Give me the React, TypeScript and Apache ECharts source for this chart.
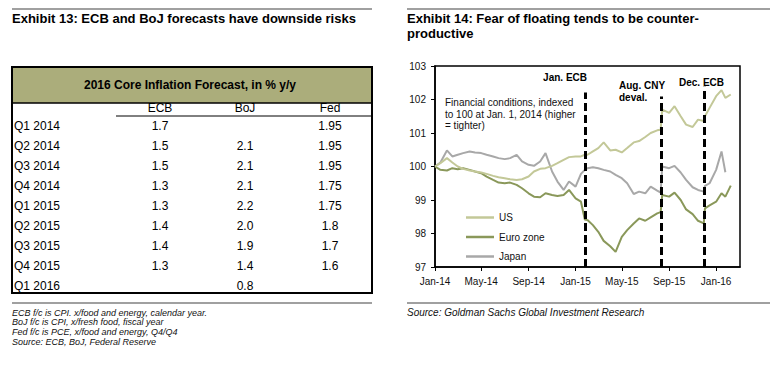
import React, { useEffect, useRef } from 'react';
import * as echarts from 'echarts';

const FONT = '"Liberation Sans", Arial, Helvetica, sans-serif';

// ---------- Exhibit 13 (table) ----------
const leftTitle = 'Exhibit 13: ECB and BoJ forecasts have downside risks';
const tableTitle = '2016 Core Inflation Forecast, in % y/y';
const tableColumns = ['ECB', 'BoJ', 'Fed'];
const tableRows = ['Q1 2014', 'Q2 2014', 'Q3 2014', 'Q4 2014', 'Q1 2015', 'Q2 2015', 'Q3 2015', 'Q4 2015', 'Q1 2016'];
const ecbForecast = ['1.7', '1.5', '1.5', '1.3', '1.3', '1.4', '1.4', '1.3', ''];
const bojForecast = ['', '2.1', '2.1', '2.1', '2.2', '2.0', '1.9', '1.4', '0.8'];
const fedForecast = ['1.95', '1.95', '1.95', '1.75', '1.75', '1.8', '1.7', '1.6', ''];
const leftFootnotes = [
  'ECB f/c is CPI. x/food and energy, calendar year.',
  'BoJ f/c is CPI, x/fresh food, fiscal year',
  'Fed f/c is PCE, x/food and energy, Q4/Q4',
  'Source: ECB, BoJ, Federal Reserve',
];

// ---------- Exhibit 14 (line chart) ----------
const rightTitle = ['Exhibit 14: Fear of floating tends to be counter-', 'productive'];
const rightSource = 'Source: Goldman Sachs Global Investment Research';
const noteLines = ['Financial conditions, indexed', 'to 100 at Jan. 1, 2014 (higher', '= tighter)'];
const seriesNames = ['US', 'Euro zone', 'Japan'];

const dates = [
  '2014-01-01', '2014-01-15', '2014-02-01', '2014-02-15', '2014-03-01', '2014-03-15',
  '2014-04-01', '2014-04-15', '2014-05-01', '2014-05-15', '2014-06-01', '2014-06-15',
  '2014-07-01', '2014-07-15', '2014-08-01', '2014-08-15', '2014-09-01', '2014-09-15',
  '2014-10-01', '2014-10-15', '2014-11-01', '2014-11-15', '2014-12-01', '2014-12-15',
  '2015-01-01', '2015-01-15', '2015-01-25', '2015-02-01', '2015-02-15', '2015-03-01',
  '2015-03-15', '2015-04-01', '2015-04-15', '2015-05-01', '2015-05-15', '2015-06-01',
  '2015-06-15', '2015-07-01', '2015-07-15', '2015-08-01', '2015-08-10', '2015-08-14',
  '2015-09-01', '2015-09-15', '2015-10-01', '2015-10-15', '2015-11-01', '2015-11-15',
  '2015-11-30', '2015-12-03', '2015-12-15', '2016-01-01', '2016-01-15', '2016-01-25',
  '2016-02-08',
];
const usValues = [
  100.0, 100.1, 100.25, 100.12, 100.0, 99.93,
  99.88, 99.85, 99.82, 99.78, 99.72, 99.68,
  99.65, 99.62, 99.6, 99.62, 99.7, 99.85,
  99.93, 99.95, 100.02, 100.1, 100.2, 100.28,
  100.3, 100.3, 100.35, 100.35, 100.45, 100.55,
  100.72, 100.48, 100.5, 100.42, 100.55, 100.72,
  100.76, 100.88, 101.0, 101.08, 101.1, 101.7,
  101.6, 101.8, 101.5, 101.25, 101.18, 101.4,
  101.36, 101.5, 101.75, 102.1, 102.28, 102.05,
  102.15,
];
const euroValues = [
  100.0, 99.9, 99.88, 99.95, 99.92, 99.95,
  99.9, 99.85, 99.8, 99.7, 99.6, 99.52,
  99.5, 99.52, 99.45, 99.35, 99.2, 99.1,
  99.08, 99.2, 99.15, 99.12, 99.15, 99.3,
  99.05, 98.95, 98.42, 98.4, 98.25, 98.05,
  97.78, 97.62, 97.45, 97.9, 98.1, 98.3,
  98.45, 98.38, 98.48, 98.6, 98.64, 99.15,
  99.1, 99.22, 99.0, 98.72, 98.58, 98.38,
  98.3, 98.75, 98.84, 98.95, 99.2, 99.1,
  99.43,
];
const japanValues = [
  100.0, 100.12, 100.48, 100.3, 100.35, 100.4,
  100.45, 100.42, 100.4, 100.35, 100.3, 100.25,
  100.22, 100.25, 100.35, 100.15, 100.05, 100.02,
  100.15, 100.4, 99.85, 99.55, 99.3, 99.55,
  99.4, 99.78, 99.9, 99.95, 99.98, 99.95,
  99.9, 99.85, 99.75, 99.65, 99.5, 99.18,
  99.25, 99.2, 99.4, 99.28, 99.22, 100.0,
  99.95, 100.02, 99.82, 99.6, 99.38, 99.3,
  99.25, 99.42, 99.5, 99.9, 100.45, 99.83,
  null,
];

const eventLabels = ['Jan. ECB', 'Aug. CNY', 'Dec. ECB'];
const eventDates = ['2015-01-25', '2015-08-12', '2015-12-01'];
const eventTops = [102.21, 102.09, 102.38];

const xTickDates = ['2014-01-01', '2014-05-01', '2014-09-01', '2015-01-01', '2015-05-01', '2015-09-01', '2016-01-01'];
const xMin = '2014-01-01';
const xMax = '2016-03-03';
const yMin = 97;
const yMax = 103;

const MONTHS = ['Jan', 'Feb', 'Mar', 'Apr', 'May', 'Jun', 'Jul', 'Aug', 'Sep', 'Oct', 'Nov', 'Dec'];

function toTime(s: string): number {
  const [y, m, d] = s.split('-').map(Number);
  return Date.UTC(y, m - 1, d);
}

function txt(text: string, x: number, y: number, font: string, align = 'left', fill = '#000') {
  return {
    type: 'text',
    x,
    y,
    silent: true,
    style: { text, font, fill, align, verticalAlign: 'middle' },
  };
}

function hline(x1: number, x2: number, y: number, stroke: string, lineWidth: number) {
  return { type: 'line', silent: true, shape: { x1, y1: y, x2, y2: y }, style: { stroke, lineWidth } };
}

export default function App() {
  const ref = useRef<HTMLDivElement>(null);

  useEffect(() => {
    if (!ref.current) return;
    const chart = echarts.init(ref.current, undefined, { renderer: 'svg' });

    const bold13 = `bold 13px ${FONT}`;
    const bold12 = `bold 12px ${FONT}`;
    const reg12 = `12px ${FONT}`;
    const ital9 = `italic 9px ${FONT}`;
    const ital10 = `italic 10px ${FONT}`;
    const bold10 = `bold 10px ${FONT}`;
    const reg10 = `10px ${FONT}`;

    const graphics: any[] = [];
    // left exhibit
    graphics.push(hline(12, 372, 9, '#808080', 1.5));
    graphics.push(txt(leftTitle, 12, 18.5, bold13));
    graphics.push({ type: 'rect', silent: true, shape: { x: 12, y: 67, width: 360, height: 36 }, style: { fill: '#abad7b' } });
    graphics.push(hline(12, 372, 103, '#000', 1.5));
    graphics.push({ type: 'rect', silent: true, shape: { x: 12, y: 67, width: 360, height: 226 }, style: { fill: 'none', stroke: '#000', lineWidth: 2 } });
    graphics.push(txt(tableTitle, 190, 85, bold12, 'center'));
    const colX = [160, 245, 330];
    tableColumns.forEach((c, i) => graphics.push(txt(c, colX[i], 107.8, reg12, 'center')));
    graphics.push(hline(116, 372, 116, '#000', 1));
    const cols = [ecbForecast, bojForecast, fedForecast];
    tableRows.forEach((r, i) => {
      const y = 125.7 + i * 20;
      graphics.push(txt(r, 14, y, reg12));
      cols.forEach((col, j) => {
        if (col[i]) graphics.push(txt(col[i], colX[j], y, reg12, 'center'));
      });
    });
    graphics.push(hline(12, 372, 303, '#a0a0a0', 2));
    leftFootnotes.forEach((f, i) => graphics.push(txt(f, 12, 312.7 + i * 9.7, ital9, 'left', '#111')));

    // right exhibit
    graphics.push(hline(407, 770, 9, '#808080', 1.5));
    graphics.push(txt(rightTitle[0], 407, 18.3, bold13));
    graphics.push(txt(rightTitle[1], 407, 33.3, bold13));
    graphics.push(hline(407, 770, 303, '#a0a0a0', 2));
    graphics.push(txt(rightSource, 407, 312.3, ital10, 'left', '#111'));
    noteLines.forEach((l, i) => graphics.push(txt(l, 445, 102.3 + i * 11.7, reg10, 'left', '#111')));
    graphics.push(txt(eventLabels[0], 587, 77, bold10, 'right'));
    graphics.push(txt(eventLabels[1], 619, 85, bold10, 'left'));
    graphics.push(txt('deval.', 619, 97, bold10, 'left'));
    graphics.push(txt(eventLabels[2], 679, 82, bold10, 'left'));

    const colors = ['#c3c898', '#8a985a', '#a8a8a8'];
    const valueSets = [usValues, euroValues, japanValues];
    const times = dates.map(toTime);

    const series: any[] = [2, 1, 0].map((k) => ({
      name: seriesNames[k],
      type: 'line',
      symbol: 'none',
      showSymbol: false,
      smooth: false,
      connectNulls: false,
      color: colors[k],
      lineStyle: { width: 2, color: colors[k] },
      itemStyle: { color: colors[k] },
      data: times.map((t, i) => [t, valueSets[k][i] === null ? '-' : valueSets[k][i]]),
      z: 2,
    }));
    series.push({
      name: 'events',
      type: 'line',
      data: [],
      z: 5,
      markLine: {
        silent: true,
        symbol: 'none',
        label: { show: false },
        lineStyle: { color: '#000', width: 3, type: [8, 4] },
        data: eventDates.map((d, i) => [
          { coord: [toTime(d), yMin] },
          { coord: [toTime(d), eventTops[i]] },
        ]),
      },
    });

    const tickValues = xTickDates.map(toTime);

    chart.setOption({
      animation: false,
      backgroundColor: '#fff',
      textStyle: { fontFamily: FONT },
      grid: {
        left: 435,
        right: 36,
        top: 66,
        bottom: 98,
        show: true,
        borderColor: '#000',
        borderWidth: 1.5,
        backgroundColor: 'transparent',
      },
      legend: {
        orient: 'vertical',
        left: 461,
        top: 206.5,
        icon: 'rect',
        itemWidth: 28,
        itemHeight: 2.5,
        itemGap: 7.5,
        data: seriesNames,
        textStyle: { fontSize: 10, color: '#111', fontFamily: FONT, lineHeight: 12 },
        selectedMode: false,
      },
      xAxis: {
        type: 'value',
        min: toTime(xMin),
        max: toTime(xMax),
        axisLine: { show: true, lineStyle: { color: '#000', width: 1.5 } },
        axisTick: {
          show: true,
          inside: false,
          length: 4,
          lineStyle: { color: '#000' },
          customValues: tickValues,
        },
        axisLabel: {
          fontSize: 10,
          color: '#111',
          margin: 9,
          customValues: tickValues,
          formatter: (v: number) => {
            const d = new Date(v);
            return MONTHS[d.getUTCMonth()] + '-' + String(d.getUTCFullYear()).slice(2);
          },
        },
        splitLine: { show: false },
      },
      yAxis: {
        type: 'value',
        min: yMin,
        max: yMax,
        interval: 1,
        axisLine: { show: true, lineStyle: { color: '#000', width: 1.5 } },
        axisTick: { show: true, inside: false, length: 4, lineStyle: { color: '#000' } },
        axisLabel: { fontSize: 10, color: '#111', margin: 9 },
        splitLine: { show: false },
      },
      series,
      graphic: { elements: graphics },
    });

    return () => chart.dispose();
  }, []);

  return (
    <div
      ref={ref}
      style={{ position: 'fixed', left: 0, top: 0, width: 776, height: 365, background: '#fff' }}
    />
  );
}
